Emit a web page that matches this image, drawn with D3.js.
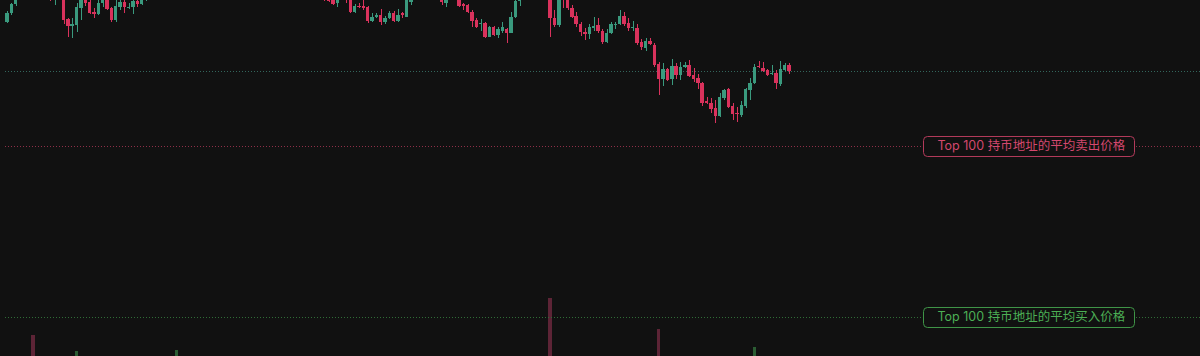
<!DOCTYPE html>
<html>
<head>
<meta charset="utf-8">
<script src="https://cdn.jsdelivr.net/npm/d3@7"></script>
<style>
html, body { margin: 0; padding: 0; background: #111111; overflow: hidden; }
svg { display: block; }
</style>
</head>
<body>
<svg id="chart"></svg>
<script>
var width = 1200;
var height = 356;

// one row per candle: [open, high, low, close]
var candles = [
  [4.34, 4.45, 4.33, 4.43], [4.43, 4.53, 4.41, 4.52], [4.52, 4.61, 4.50, 4.58], [4.58, 4.70, 4.57, 4.66], [4.66, 4.71, 4.60, 4.62],
  [4.62, 4.76, 4.60, 4.74], [4.74, 4.78, 4.58, 4.60], [4.60, 4.70, 4.58, 4.68], [4.68, 4.72, 4.61, 4.64], [4.64, 4.68, 4.57, 4.59],
  [4.59, 4.62, 4.55, 4.56], [4.58, 4.66, 4.51, 4.64], [4.64, 4.68, 4.58, 4.60], [4.61, 4.64, 4.32, 4.36], [4.37, 4.38, 4.19, 4.30],
  [4.30, 4.38, 4.18, 4.32], [4.31, 4.53, 4.24, 4.49], [4.48, 4.62, 4.36, 4.59], [4.60, 4.62, 4.50, 4.53], [4.54, 4.56, 4.42, 4.43],
  [4.44, 4.48, 4.38, 4.42], [4.42, 4.56, 4.41, 4.53], [4.53, 4.60, 4.49, 4.58], [4.59, 4.60, 4.46, 4.47], [4.48, 4.49, 4.34, 4.36],
  [4.36, 4.56, 4.34, 4.50], [4.49, 4.57, 4.46, 4.54], [4.54, 4.57, 4.43, 4.49], [4.48, 4.53, 4.47, 4.49], [4.49, 4.57, 4.42, 4.55],
  [4.55, 4.56, 4.49, 4.52], [4.52, 4.60, 4.51, 4.58], [4.58, 4.66, 4.55, 4.64], [4.64, 4.72, 4.60, 4.70], [4.70, 4.74, 4.62, 4.65],
  [4.65, 4.80, 4.63, 4.78], [4.78, 4.82, 4.70, 4.73], [4.73, 4.86, 4.71, 4.84], [4.84, 4.92, 4.80, 4.90], [4.90, 5.05, 4.88, 5.02],
  [5.02, 5.08, 4.94, 4.97], [4.97, 5.04, 4.90, 5.01], [5.01, 5.10, 4.98, 5.07], [5.07, 5.12, 5.00, 5.03], [5.03, 5.09, 4.95, 4.98],
  [4.98, 5.06, 4.94, 5.04], [5.04, 5.14, 5.02, 5.12], [5.12, 5.18, 5.06, 5.09], [5.09, 5.13, 5.00, 5.02], [5.02, 5.05, 4.93, 4.96],
  [4.96, 5.03, 4.92, 5.00], [5.00, 5.11, 4.98, 5.09], [5.09, 5.16, 5.05, 5.14], [5.14, 5.21, 5.08, 5.10], [5.10, 5.14, 5.01, 5.04],
  [5.04, 5.08, 4.95, 4.98], [4.98, 5.02, 4.88, 4.91], [4.91, 4.97, 4.86, 4.94], [4.94, 5.00, 4.89, 4.92], [4.92, 4.95, 4.82, 4.85],
  [4.85, 4.91, 4.80, 4.88], [4.88, 4.93, 4.81, 4.83], [4.83, 4.86, 4.74, 4.77], [4.77, 4.84, 4.74, 4.81], [4.81, 4.85, 4.72, 4.75],
  [4.75, 4.80, 4.70, 4.78], [4.78, 4.82, 4.68, 4.70], [4.70, 4.76, 4.65, 4.73], [4.73, 4.77, 4.64, 4.66], [4.66, 4.72, 4.62, 4.69],
  [4.69, 4.73, 4.61, 4.64], [4.64, 4.70, 4.60, 4.67], [4.67, 4.71, 4.59, 4.62], [4.61, 4.64, 4.55, 4.56], [4.60, 4.62, 4.54, 4.55],
  [4.59, 4.61, 4.51, 4.52], [4.53, 4.61, 4.49, 4.59], [4.59, 4.68, 4.57, 4.66], [4.66, 4.68, 4.53, 4.60], [4.61, 4.64, 4.43, 4.44],
  [4.44, 4.52, 4.43, 4.50], [4.50, 4.53, 4.48, 4.49], [4.50, 4.56, 4.46, 4.48], [4.49, 4.50, 4.33, 4.35], [4.35, 4.43, 4.34, 4.39],
  [4.39, 4.43, 4.38, 4.41], [4.41, 4.47, 4.31, 4.34], [4.34, 4.40, 4.32, 4.38], [4.38, 4.45, 4.37, 4.43], [4.43, 4.45, 4.34, 4.35],
  [4.35, 4.47, 4.34, 4.41], [4.43, 4.44, 4.38, 4.41], [4.39, 4.59, 4.39, 4.57], [4.54, 4.61, 4.51, 4.58], [4.58, 4.70, 4.57, 4.68],
  [4.68, 4.74, 4.62, 4.65], [4.65, 4.72, 4.60, 4.70], [4.70, 4.75, 4.63, 4.66], [4.66, 4.70, 4.59, 4.62], [4.62, 4.67, 4.58, 4.60],
  [4.58, 4.61, 4.51, 4.54], [4.53, 4.61, 4.49, 4.59], [4.59, 4.68, 4.58, 4.66], [4.66, 4.70, 4.60, 4.62], [4.59, 4.61, 4.49, 4.50],
  [4.52, 4.53, 4.46, 4.50], [4.51, 4.52, 4.43, 4.44], [4.44, 4.46, 4.29, 4.35], [4.36, 4.38, 4.28, 4.29], [4.32, 4.37, 4.25, 4.33],
  [4.33, 4.34, 4.18, 4.19], [4.19, 4.30, 4.19, 4.29], [4.29, 4.30, 4.20, 4.21], [4.21, 4.29, 4.18, 4.27], [4.25, 4.34, 4.23, 4.29],
  [4.27, 4.28, 4.13, 4.23], [4.23, 4.44, 4.23, 4.39], [4.39, 4.57, 4.38, 4.55], [4.55, 4.60, 4.50, 4.58], [4.58, 4.69, 4.57, 4.66],
  [4.66, 4.75, 4.62, 4.72], [4.72, 4.78, 4.66, 4.69], [4.69, 4.80, 4.67, 4.77], [4.77, 4.83, 4.70, 4.74], [4.74, 4.79, 4.64, 4.66],
  [4.66, 4.70, 4.19, 4.38], [4.38, 4.46, 4.29, 4.31], [4.31, 4.63, 4.29, 4.60], [4.62, 4.64, 4.48, 4.57], [4.58, 4.60, 4.46, 4.48],
  [4.48, 4.51, 4.38, 4.39], [4.40, 4.44, 4.29, 4.32], [4.32, 4.34, 4.20, 4.24], [4.24, 4.28, 4.16, 4.22], [4.22, 4.32, 4.17, 4.29],
  [4.28, 4.39, 4.25, 4.30], [4.31, 4.38, 4.23, 4.25], [4.25, 4.27, 4.12, 4.14], [4.14, 4.27, 4.13, 4.23], [4.23, 4.34, 4.22, 4.32],
  [4.31, 4.34, 4.27, 4.32], [4.32, 4.46, 4.31, 4.40], [4.40, 4.44, 4.30, 4.32], [4.33, 4.38, 4.25, 4.28], [4.28, 4.35, 4.25, 4.29],
  [4.28, 4.32, 4.11, 4.13], [4.14, 4.17, 4.06, 4.09], [4.08, 4.18, 4.05, 4.15], [4.15, 4.18, 4.11, 4.12], [4.11, 4.13, 3.89, 3.91],
  [3.92, 3.94, 3.61, 3.77], [3.77, 3.93, 3.70, 3.87], [3.87, 3.88, 3.75, 3.76], [3.77, 3.97, 3.71, 3.90], [3.90, 3.93, 3.77, 3.81],
  [3.81, 3.94, 3.76, 3.89], [3.89, 3.94, 3.88, 3.91], [3.91, 3.96, 3.79, 3.80], [3.81, 3.88, 3.74, 3.77], [3.78, 3.82, 3.67, 3.73],
  [3.73, 3.74, 3.50, 3.53], [3.55, 3.59, 3.52, 3.53], [3.53, 3.58, 3.43, 3.47], [3.48, 3.56, 3.33, 3.40], [3.40, 3.63, 3.39, 3.59],
  [3.58, 3.67, 3.56, 3.66], [3.67, 3.68, 3.48, 3.49], [3.50, 3.53, 3.36, 3.42], [3.43, 3.49, 3.34, 3.42], [3.41, 3.55, 3.39, 3.51],
  [3.50, 3.68, 3.48, 3.67], [3.66, 3.78, 3.56, 3.73], [3.73, 3.92, 3.72, 3.89], [3.90, 3.95, 3.88, 3.89], [3.88, 3.94, 3.84, 3.85],
  [3.86, 3.87, 3.80, 3.81], [3.82, 3.91, 3.81, 3.83], [3.83, 3.86, 3.67, 3.73], [3.72, 3.95, 3.70, 3.87], [3.86, 3.93, 3.85, 3.91],
  [3.91, 3.93, 3.82, 3.85]
];

var volumes = [
  18, 14, 22, 16, 12, 20, 55, 24, 15, 19,
  13, 17, 21, 28, 26, 18, 39, 30, 16, 22,
  14, 19, 12, 17, 25, 27, 11, 15, 9, 18,
  10, 16, 21, 24, 15, 20, 13, 18, 23, 40,
  22, 14, 17, 12, 19, 16, 21, 13, 18, 24,
  15, 20, 17, 12, 14, 19, 22, 11, 13, 18,
  10, 15, 20, 12, 14, 9, 17, 11, 16, 13,
  12, 10, 14, 16, 11, 13, 15, 12, 18, 26,
  17, 9, 12, 24, 16, 8, 20, 11, 13, 15,
  14, 10, 28, 19, 16, 12, 14, 11, 13, 10,
  12, 15, 11, 13, 18, 10, 14, 20, 17, 12,
  25, 18, 15, 13, 11, 19, 26, 30, 14, 20,
  22, 16, 18, 14, 21, 92, 30, 33, 24, 19,
  20, 22, 23, 15, 17, 13, 14, 25, 18, 16,
  10, 19, 15, 13, 11, 26, 18, 15, 12, 32,
  61, 28, 20, 24, 17, 16, 9, 18, 14, 15,
  30, 12, 18, 25, 27, 14, 22, 19, 11, 17,
  24, 20, 43, 13, 11, 12, 9, 18, 21, 10,
  12
];

var avgSellPrice = 3.10;
var avgBuyPrice = 1.39;
var sellLabel = "Top 100 持币地址的平均卖出价格";
var buyLabel = "Top 100 持币地址的平均买入价格";

var upColor = "#3a9a7e";
var downColor = "#d9325c";

var svg = d3.select("#chart").attr("width", width).attr("height", height);

svg.append("rect")
  .attr("width", width).attr("height", height)
  .attr("fill", "#111111");

// price pane spills past the top edge, volume pane past the bottom
var x = d3.scaleBand()
  .domain(d3.range(candles.length))
  .range([5.3, 5.3 + candles.length * 4.34])
  .paddingInner(0.2);

var y = d3.scaleLinear().domain([1.0, 4.56]).range([356, 0]);
var yVol = d3.scaleLinear().domain([0, 100]).range([390, 290]);

function isUp(d) { return d[3] >= d[0]; }

// volume bars
svg.append("g").selectAll("rect")
  .data(candles)
  .enter()
  .append("rect")
  .attr("x", function(d, i) { return x(i); })
  .attr("width", x.bandwidth())
  .attr("y", function(d, i) { return yVol(volumes[i]); })
  .attr("height", function(d, i) { return yVol(0) - yVol(volumes[i]); })
  .attr("fill", function(d) { return isUp(d) ? "#2b5d33" : "#5d2436"; })
  .attr("shape-rendering", "crispEdges");

// horizontal price lines
function priceLine(price, color) {
  svg.append("line")
    .attr("x1", 5).attr("x2", width)
    .attr("y1", Math.round(y(price)) + 0.5)
    .attr("y2", Math.round(y(price)) + 0.5)
    .attr("stroke", color)
    .attr("stroke-width", 1)
    .attr("stroke-dasharray", "1,2");
}
priceLine(candles[candles.length - 1][3], "#33665c");
priceLine(avgSellPrice, "#8e2f48");
priceLine(avgBuyPrice, "#2f6d36");

// candles
var candle = svg.append("g").selectAll("g")
  .data(candles)
  .enter()
  .append("g");

candle.append("line")
  .attr("x1", function(d, i) { return Math.round(x(i) + x.bandwidth() / 2) + 0.5; })
  .attr("x2", function(d, i) { return Math.round(x(i) + x.bandwidth() / 2) + 0.5; })
  .attr("y1", function(d) { return y(d[1]); })
  .attr("y2", function(d) { return y(d[2]); })
  .attr("stroke", function(d) { return isUp(d) ? upColor : downColor; })
  .attr("stroke-width", 1);

candle.append("rect")
  .attr("x", function(d, i) { return x(i); })
  .attr("width", x.bandwidth())
  .attr("y", function(d) { return y(Math.max(d[0], d[3])); })
  .attr("height", function(d) { return Math.max(1, Math.abs(y(d[0]) - y(d[3]))); })
  .attr("fill", function(d) { return isUp(d) ? upColor : downColor; })
  .attr("shape-rendering", "crispEdges");

// labels on the average price lines
function priceTag(price, text, stroke, fill) {
  var g = svg.append("g")
    .attr("transform", "translate(923," + (Math.round(y(price)) - 10) + ")");
  g.append("rect")
    .attr("x", 0.5).attr("y", 0.5)
    .attr("width", 211).attr("height", 20)
    .attr("rx", 4)
    .attr("fill", "#111111")
    .attr("stroke", stroke);
  g.append("text")
    .attr("x", 14.5).attr("y", 11)
    .attr("dominant-baseline", "middle")
    .style("font-family", "Inter, 'Noto Sans CJK SC', sans-serif")
    .style("font-size", "12.5px")
    .attr("fill", fill)
    .text(text);
}
priceTag(avgSellPrice, sellLabel, "#b23a5a", "#d4486e");
priceTag(avgBuyPrice, buyLabel, "#3f9447", "#4caf55");
</script>
</body>
</html>
